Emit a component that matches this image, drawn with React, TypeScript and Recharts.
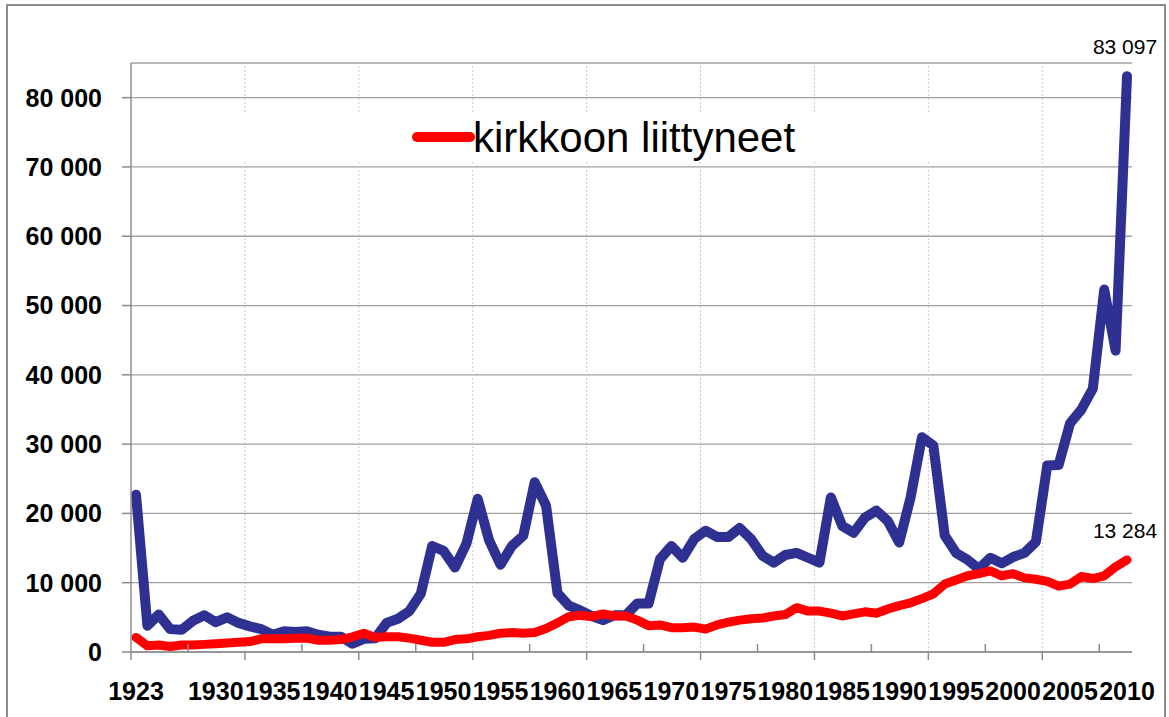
import React from 'react';
import { LineChart, Line, XAxis, YAxis, CartesianGrid, ReferenceLine, Legend } from 'recharts';

const years = [
  1923, 1924, 1925, 1926, 1927, 1928, 1929, 1930, 1931, 1932,
  1933, 1934, 1935, 1936, 1937, 1938, 1939, 1940, 1941, 1942,
  1943, 1944, 1945, 1946, 1947, 1948, 1949, 1950, 1951, 1952,
  1953, 1954, 1955, 1956, 1957, 1958, 1959, 1960, 1961, 1962,
  1963, 1964, 1965, 1966, 1967, 1968, 1969, 1970, 1971, 1972,
  1973, 1974, 1975, 1976, 1977, 1978, 1979, 1980, 1981, 1982,
  1983, 1984, 1985, 1986, 1987, 1988, 1989, 1990, 1991, 1992,
  1993, 1994, 1995, 1996, 1997, 1998, 1999, 2000, 2001, 2002,
  2003, 2004, 2005, 2006, 2007, 2008, 2009, 2010,
];

// kirkosta eronneet (blue)
const eronneet = [
  22700, 3800, 5400, 3300, 3200, 4500, 5300, 4300, 5000, 4200,
  3700, 3300, 2500, 3000, 2900, 3000, 2500, 2200, 2200, 1200,
  1900, 2000, 4200, 4800, 5900, 8400, 15300, 14600, 12200, 15600,
  22100, 16100, 12600, 15300, 16800, 24500, 21100, 8500, 6700, 6000,
  5200, 4600, 5300, 5300, 7000, 7000, 13400, 15300, 13600, 16300,
  17500, 16600, 16600, 17900, 16300, 13900, 12900, 14000, 14300, 13600,
  12900, 22300, 18200, 17200, 19400, 20400, 18900, 15800, 22300, 31000,
  29800, 16800, 14300, 13300, 12000, 13600, 12800, 13700, 14300, 15900,
  26900, 27000, 33000, 35000, 38000, 52300, 43500, 83097,
];

// kirkkoon liittyneet (red)
const liittyneet = [
  2100, 900, 1000, 800, 1000, 1000, 1100, 1200, 1300, 1400,
  1500, 1900, 1900, 1900, 2000, 2000, 1700, 1700, 1800, 2200,
  2700, 2100, 2200, 2200, 2000, 1700, 1400, 1400, 1800, 1900,
  2200, 2400, 2700, 2800, 2700, 2800, 3400, 4200, 5100, 5300,
  5100, 5500, 5200, 5200, 4600, 3800, 3900, 3500, 3500, 3600,
  3300, 3900, 4300, 4600, 4800, 4900, 5200, 5400, 6400, 5900,
  5900, 5600, 5200, 5500, 5800, 5600, 6200, 6700, 7100, 7700,
  8400, 9800, 10400, 11000, 11300, 11700, 11000, 11300, 10700, 10500,
  10200, 9500, 9800, 10900, 10600, 11000, 12300, 13284,
];

const yTicks = [0, 10000, 20000, 30000, 40000, 50000, 60000, 70000, 80000];
const xLabelYears = [1923, 1930, 1935, 1940, 1945, 1950, 1955, 1960, 1965, 1970, 1975, 1980, 1985, 1990, 1995, 2000, 2005, 2010];
const majorTickYears = [1923, 1933, 1943, 1953, 1963, 1973, 1983, 1993, 2003];
const minorTickYears = [1928, 1938, 1948, 1958, 1968, 1978, 1988, 1998, 2008];
const gridYears = [1933, 1943, 1953, 1963, 1973, 1983, 1993, 2003];

const data = years.map((year, i) => ({ year, eronneet: eronneet[i], liittyneet: liittyneet[i] }));

const allXTicks = Array.from(new Set([...majorTickYears, ...minorTickYears, ...xLabelYears])).sort((a, b) => a - b);

const FONT = '"Liberation Sans", Arial, sans-serif';
const AXIS = '#8c8c8c';
const EDGE = 5; // px gap between axis start and first category (tick marks sit on the category edges)

const fmt = (v: number) => String(v).replace(/\B(?=(\d{3})+(?!\d))/g, ' ');

const XTick = (props: any) => {
  const { x, y, payload } = props;
  const v = payload.value;
  const tx = x - EDGE;
  return (
    <g>
      {majorTickYears.includes(v) && <line x1={tx} x2={tx} y1={y} y2={y + 8} stroke={AXIS} strokeWidth={1.5} />}
      {minorTickYears.includes(v) && <line x1={tx} x2={tx} y1={y - 8} y2={y} stroke={AXIS} strokeWidth={1.5} />}
      {xLabelYears.includes(v) && (
        <text x={x} y={y + 48} textAnchor="middle" fontSize={25} fontWeight="bold" fontFamily={FONT} fill="#000">
          {v}
        </text>
      )}
    </g>
  );
};

const GridShape = (props: any) => {
  const { x1, x2, y1, y2 } = props;
  return <line x1={x1 - EDGE} x2={x2 - EDGE} y1={y1} y2={y2} stroke="#c8c8c8" strokeDasharray="2 2" strokeWidth={1} />;
};

const renderLegend = (props: any) => {
  const payload = (props.payload || []).filter((e: any) => e.type !== 'none');
  return (
    <svg width={800} height={49} style={{ display: 'block' }}>
      <rect x={0} y={0} width={800} height={49} fill="#fff" />
      {payload.map((entry: any, i: number) => (
        <g key={i}>
          <line x1={217} x2={270} y1={24} y2={24} stroke={entry.color} strokeWidth={10} strokeLinecap="round" />
          <text x={273} y={39} fontSize={42} fontFamily={FONT} fill="#000">{entry.value}</text>
        </g>
      ))}
    </svg>
  );
};

const lastIndex = years.length - 1;
const endLabel = (p: any) =>
  p.index === lastIndex ? (
    <text x={p.x - 2} y={p.y - 22} textAnchor="middle" fontSize={21} fontFamily={FONT} fill="#000">
      {fmt(p.value)}
    </text>
  ) : null;

export default function App() {
  return (
    <div style={{ position: 'absolute', left: 0, top: 0, width: 1169, height: 717, background: '#fff', overflow: 'hidden' }}>
      <div
        style={{
          position: 'absolute', left: 6, top: 4, width: 1156, height: 760,
          border: '2px solid #8c8c8c', boxSizing: 'content-box',
        }}
      />
      <div style={{ position: 'absolute', left: 0, top: 0 }}>
        <LineChart width={1169} height={717} data={data} margin={{ top: 63, right: 37, bottom: 0, left: 0 }}>
          <CartesianGrid vertical={false} stroke="#a0a0a0" strokeWidth={1.3} />
          {gridYears.map((yr) => (
            <ReferenceLine key={yr} x={yr} shape={<GridShape />} />
          ))}
          <XAxis
            dataKey="year"
            type="number"
            domain={[1923, 2010]}
            padding={{ left: EDGE, right: EDGE }}
            ticks={allXTicks}
            interval={0}
            tick={<XTick />}
            tickLine={false}
            tickSize={0}
            tickMargin={0}
            height={65}
            axisLine={{ stroke: AXIS, strokeWidth: 1.5 }}
          />
          <YAxis
            type="number"
            domain={[0, 85000]}
            ticks={yTicks}
            interval={0}
            width={131}
            tickSize={9}
            tickMargin={20}
            tickFormatter={fmt}
            tick={{ fontSize: 25, fontWeight: 'bold', fill: '#000', fontFamily: FONT }}
            axisLine={{ stroke: AXIS, strokeWidth: 1.5 }}
            tickLine={{ stroke: AXIS, strokeWidth: 1.5 }}
          />
          <Legend layout="horizontal" verticalAlign="middle" align="center"
            wrapperStyle={{ top: 113, left: 200, width: 800, height: 49 }}
            content={renderLegend} />
          <Line
            dataKey="eronneet"
            name="kirkosta eronneet"
            legendType="none"
            stroke="#2E3192"
            strokeWidth={10}
            strokeLinejoin="round"
            strokeLinecap="round"
            dot={false}
            activeDot={false}
            isAnimationActive={false}
            label={endLabel}
          />
          <Line
            dataKey="liittyneet"
            name="kirkkoon liittyneet"
            stroke="#FF0000"
            strokeWidth={9}
            strokeLinejoin="round"
            strokeLinecap="round"
            dot={false}
            activeDot={false}
            isAnimationActive={false}
            label={endLabel}
          />
        </LineChart>
      </div>
    </div>
  );
}
